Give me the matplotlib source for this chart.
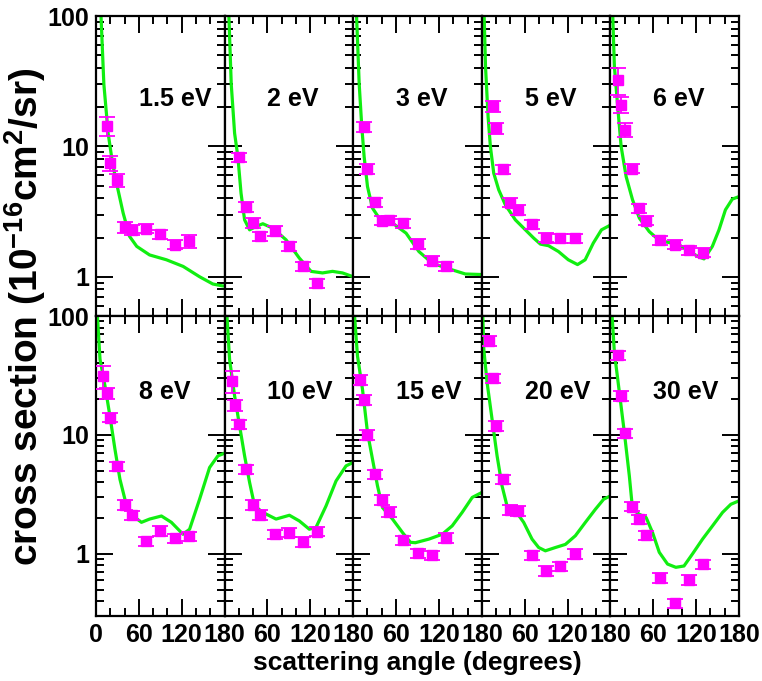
import matplotlib
matplotlib.use('Agg')
import matplotlib.pyplot as plt
from matplotlib import font_manager
from matplotlib.ticker import FixedLocator, FuncFormatter, LogLocator, NullFormatter

names = {f.name for f in font_manager.fontManager.ttflist}
FONT = 'Liberation Sans Narrow' if 'Liberation Sans Narrow' in names else 'Liberation Sans'
plt.rcParams['font.family'] = [FONT, 'DejaVu Sans']
plt.rcParams['font.weight'] = 'bold'
plt.rcParams['mathtext.fontset'] = 'custom'
plt.rcParams['mathtext.rm'] = 'Liberation Sans:bold'
plt.rcParams['mathtext.bf'] = 'Liberation Sans:bold'
plt.rcParams['mathtext.default'] = 'bf'

# ---------------- data ----------------
energies = ['1.5 eV', '2 eV', '3 eV', '5 eV', '6 eV', '8 eV', '10 eV', '15 eV', '20 eV', '30 eV']

ang_a = [15, 20, 30, 40, 50, 70, 90, 110, 130]
ang_b = [20, 30, 40, 50, 70, 90, 110, 130]
ang_c = [10, 15, 20, 30, 40, 50, 70, 90, 110, 130]

exp_1p5 = [14.4, 7.5, 5.5, 2.4, 2.29, 2.34, 2.12, 1.76, 1.88]
err_1p5 = [0.17, 0.13, 0.12, 0.10, 0.08, 0.08, 0.08, 0.08, 0.12]
exp_2 = [8.27, 3.42, 2.58, 2.04, 2.25, 1.71, 1.2, 0.89]
err_2 = [0.08, 0.09, 0.09, 0.08, 0.08, 0.08, 0.08, 0.08]
exp_3 = [14.2, 6.69, 3.75, 2.7, 2.73, 2.58, 1.79, 1.33, 1.21]
err_3 = [0.09, 0.09, 0.08, 0.08, 0.08, 0.08, 0.08, 0.08, 0.08]
exp_5 = [20.4, 13.8, 6.69, 3.71, 3.26, 2.52, 2.0, 1.97, 1.97]
err_5 = [0.10, 0.10, 0.08, 0.08, 0.08, 0.08, 0.08, 0.08, 0.08]
exp_6 = [32.3, 20.8, 13.4, 6.76, 3.34, 2.69, 1.9, 1.76, 1.59, 1.53]
err_6 = [0.23, 0.14, 0.12, 0.08, 0.08, 0.08, 0.08, 0.08, 0.08, 0.08]
exp_8 = [31.3, 22.4, 14.0, 5.43, 2.58, 2.11, 1.27, 1.56, 1.35, 1.4]
err_8 = [0.22, 0.10, 0.09, 0.09, 0.09, 0.09, 0.09, 0.09, 0.09, 0.09]
exp_10 = [28.4, 17.8, 12.3, 5.15, 2.58, 2.13, 1.46, 1.51, 1.26, 1.54]
err_10 = [0.21, 0.10, 0.09, 0.09, 0.09, 0.09, 0.09, 0.09, 0.09, 0.09]
exp_15 = [29.0, 19.7, 10.0, 4.67, 2.84, 2.25, 1.3, 1.01, 0.975, 1.36]
err_15 = [0.09, 0.09, 0.09, 0.09, 0.09, 0.09, 0.09, 0.09, 0.09, 0.09]
exp_20 = [61.7, 29.9, 11.9, 4.24, 2.34, 2.3, 0.975, 0.72, 0.79, 1.0]
err_20 = [0.09, 0.09, 0.09, 0.09, 0.09, 0.09, 0.09, 0.09, 0.09, 0.09]
exp_30 = [46.7, 21.3, 10.3, 2.5, 1.96, 1.44, 0.63, 0.385, 0.605, 0.815]
err_30 = [0.09, 0.09, 0.09, 0.09, 0.09, 0.09, 0.09, 0.09, 0.09, 0.09]

th_ang_1p5 = [7, 11, 17, 23, 28.5, 38, 47, 57, 75, 98.5, 122, 145, 163.5, 177.5, 180]
th_val_1p5 = [100, 30, 12.6, 7.5, 5.3, 3.08, 2.04, 1.71, 1.47, 1.35, 1.2, 1.0, 0.88, 0.85, 0.85]
th_ang_2 = [6, 9.3, 14, 18.6, 23, 28, 35, 44, 53.5, 67.4, 86, 104.6, 121, 137, 151, 165, 180]
th_val_2 = [100, 30, 12.6, 8.3, 4.38, 2.73, 2.29, 2.43, 2.55, 2.36, 1.92, 1.39, 1.1, 1.07, 1.1, 1.07, 1.0]
th_ang_3 = [4.7, 8.4, 12, 15.3, 20, 27, 36.3, 55, 74, 92, 110.7, 134, 157, 180]
th_val_3 = [100, 30, 14.2, 8.35, 4.92, 3.36, 2.82, 2.58, 2.16, 1.56, 1.27, 1.15, 1.05, 1.04]
th_ang_5 = [3.3, 5.2, 8.8, 12, 16.7, 23.7, 33, 47, 61, 72.6, 82, 93.5, 107.4, 121, 134, 144.7, 156, 167.5, 180]
th_val_5 = [100, 40.9, 16.9, 10, 6.23, 4.64, 3.56, 2.73, 2.29, 1.98, 1.78, 1.73, 1.56, 1.35, 1.24, 1.35, 1.81, 2.29, 2.49]
th_ang_6 = [3.3, 5.6, 10.2, 15, 22, 31, 40.5, 54.4, 68.4, 82, 96, 110, 124, 131, 142.7, 152, 161, 170.6, 180]
th_val_6 = [100, 40.9, 20.2, 10, 5.87, 3.89, 2.82, 2.22, 1.9, 1.83, 1.76, 1.56, 1.42, 1.37, 1.71, 2.29, 3.26, 3.94, 4.12]
th_ang_8 = [2, 5.6, 12.6, 19.5, 26.5, 33.5, 42.8, 52, 63.6, 75, 91.6, 105.5, 121.8, 131, 145, 159, 170.6, 180]
th_val_8 = [100, 43.3, 25.8, 14.4, 7.59, 4.24, 2.53, 2.08, 1.84, 1.96, 2.08, 1.84, 1.46, 1.61, 2.88, 5.32, 6.66, 7.02]
th_ang_10 = [3.3, 7, 14, 21, 28, 35, 42, 53.5, 72, 90.7, 104.6, 118.6, 128, 142, 156, 170, 180]
th_val_10 = [100, 43, 21.3, 11.9, 6.66, 3.98, 2.53, 2.23, 1.96, 2.11, 1.89, 1.61, 1.67, 2.53, 4.1, 5.49, 5.87]
th_ang_15 = [1.9, 6, 13, 20, 27, 34, 41, 55, 69, 80, 87, 106, 124.6, 138.6, 152.5, 166.6, 180]
th_val_15 = [100, 46.1, 24.2, 10.5, 6.25, 3.73, 2.45, 1.96, 1.51, 1.25, 1.24, 1.33, 1.46, 1.72, 2.23, 2.98, 3.28]
th_ang_20 = [1.4, 2.8, 7.4, 14.4, 21.4, 28.3, 35.3, 47, 58.6, 70.3, 79.6, 89, 103, 117, 131, 145, 159, 170.6, 180]
th_val_20 = [100, 52.5, 27.6, 13.5, 6.66, 3.73, 2.53, 2.3, 1.84, 1.33, 1.13, 1.06, 1.13, 1.2, 1.42, 1.84, 2.37, 2.88, 3.07]
th_ang_30 = [2.4, 5.6, 12.6, 19.5, 26.5, 31, 40.5, 50, 59, 68.4, 80, 91.6, 103, 115, 129, 143, 157, 168.6, 180]
th_val_30 = [100, 49.2, 22.7, 10.5, 4.52, 2.37, 2.15, 2.02, 1.51, 1.03, 0.82, 0.77, 0.79, 1.0, 1.33, 1.72, 2.23, 2.61, 2.79]

x_major = [0, 60, 120, 180]
x_minor = [20, 40, 80, 100, 140, 160]
row_ylim = [(0.5, 100), (0.3, 100)]

panels = [
    (ang_a, exp_1p5, err_1p5, th_ang_1p5, th_val_1p5),
    (ang_b, exp_2, err_2, th_ang_2, th_val_2),
    (ang_a, exp_3, err_3, th_ang_3, th_val_3),
    (ang_a, exp_5, err_5, th_ang_5, th_val_5),
    (ang_c, exp_6, err_6, th_ang_6, th_val_6),
    (ang_c, exp_8, err_8, th_ang_8, th_val_8),
    (ang_c, exp_10, err_10, th_ang_10, th_val_10),
    (ang_c, exp_15, err_15, th_ang_15, th_val_15),
    (ang_c, exp_20, err_20, th_ang_20, th_val_20),
    (ang_c, exp_30, err_30, th_ang_30, th_val_30),
]

# ---------------- figure ----------------
fig = plt.figure(figsize=(7.62, 6.81), dpi=100)
gs = fig.add_gridspec(2, 5, left=96/762, right=739/762, top=1-16/681, bottom=1-616/681,
                      wspace=0, hspace=0)
GREEN = '#11ee11'
MAG = '#ff00ff'

for i, (ang, val, rel, tang, tval) in enumerate(panels):
    r, c = divmod(i, 5)
    ax = fig.add_subplot(gs[r, c])
    ax.set_yscale('log')
    ax.set_xlim(0, 180)
    ax.set_ylim(*row_ylim[r])
    ax.plot(tang, tval, color=GREEN, lw=2.3, zorder=2, solid_capstyle='round')
    lo = [v * e for v, e in zip(val, rel)]
    ax.errorbar(ang, val, yerr=[lo, lo], fmt='s', color=MAG, ecolor=MAG, ms=7.4,
                mec=MAG, elinewidth=1.3, capsize=6, capthick=1.3, zorder=3)
    ax.text(60, 23, energies[i], ha='left', va='center', fontsize=18, fontweight='bold')

    ax.xaxis.set_major_locator(FixedLocator(x_major))
    ax.xaxis.set_minor_locator(FixedLocator(x_minor))
    ax.yaxis.set_major_locator(LogLocator(base=10))
    ax.yaxis.set_minor_locator(LogLocator(base=10, subs=range(2, 10)))
    ax.yaxis.set_minor_formatter(NullFormatter())
    ax.tick_params(which='both', direction='in', top=True, right=True, width=1.4,
                   labelsize=18)
    ax.tick_params(which='major', length=12)
    ax.tick_params(which='minor', length=6)
    ax.tick_params(axis='y', pad=5)
    ax.tick_params(axis='x', pad=5)
    for s in ax.spines.values():
        s.set_linewidth(1.6)

    if c == 0:
        ax.yaxis.set_major_formatter(FuncFormatter(lambda v, p: '%g' % v))
    else:
        ax.yaxis.set_major_formatter(NullFormatter())
    if r == 1:
        if c == 0:
            ax.xaxis.set_major_formatter(FuncFormatter(lambda v, p: '%d' % v))
        else:
            ax.xaxis.set_major_formatter(FuncFormatter(lambda v, p: '' if v == 0 else '%d' % v))
    else:
        ax.xaxis.set_major_formatter(NullFormatter())
    for lab in ax.get_xticklabels() + ax.get_yticklabels():
        lab.set_fontweight('bold')

fig.text(417/762, 1-663/681, 'scattering angle (degrees)', ha='center', va='center',
         fontsize=19, fontweight='bold')
fig.text(25/762, 1-317/681, r'cross section (10$^{-16}$cm$^{2}$/sr)', ha='center', va='center',
         rotation=90, fontsize=28, fontweight='bold', family=['Liberation Sans', 'DejaVu Sans'])

fig.savefig('out.png', dpi=100)
